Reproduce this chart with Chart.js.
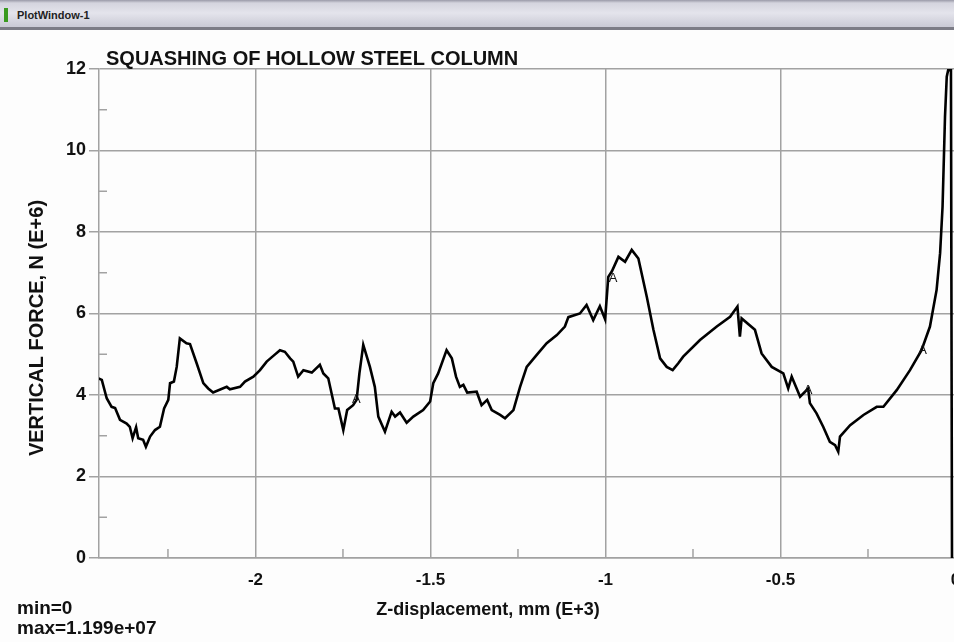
<!doctype html>
<html>
<head>
<meta charset="UTF-8">
<title>PlotWindow-1</title>
<script src="https://cdn.jsdelivr.net/npm/chart.js@4"></script>
<style>
  html, body { margin: 0; padding: 0; overflow: hidden; background: #fdfdfd; }
  #bar {
    position: absolute; left: 0; top: 0; width: 954px; height: 27px; z-index: 2;
    background: linear-gradient(#9a9aa8 0px, #d4d4de 3px, #e4e4ec 13px, #cbcbd6 26px);
    border-bottom: 3px solid #7c7c86;
    font: bold 11px "Liberation Sans", Arial, sans-serif; color: #222;
  }
  #bar span { position: absolute; left: 17px; top: 9px; }
  #bar i { position: absolute; left: 4px; top: 8px; width: 4px; height: 14px; background: #3a9a20; }
  #wrap { position: absolute; left: 0; top: 0; width: 980px; height: 642px; }
</style>
</head>
<body>
<div id="bar"><i></i><span>PlotWindow-1</span></div>
<div id="wrap"><canvas id="canvas" width="980" height="642"></canvas></div>
<script>
// Z-displacement (E+3 mm) and vertical force (E+6 N)
var xs = [-2.449,-2.439,-2.425,-2.411,-2.401,-2.387,-2.368,-2.359,-2.351,-2.341,-2.335,-2.321,-2.313,-2.301,-2.287,-2.273,-2.261,-2.249,-2.244,-2.233,
  -2.225,-2.216,-2.197,-2.187,-2.168,-2.149,-2.135,-2.121,-2.082,-2.073,-2.044,-2.030,-2.006,-1.987,-1.968,-1.949,-1.930,-1.916,-1.901,-1.892,
  -1.878,-1.863,-1.839,-1.816,-1.806,-1.792,-1.773,-1.763,-1.749,-1.738,-1.721,-1.711,-1.703,-1.692,-1.673,-1.659,-1.649,-1.630,-1.611,-1.601,
  -1.587,-1.568,-1.549,-1.521,-1.501,-1.492,-1.478,-1.454,-1.439,-1.427,-1.416,-1.406,-1.395,-1.368,-1.354,-1.338,-1.325,-1.301,-1.287,-1.263,
  -1.244,-1.225,-1.197,-1.168,-1.139,-1.116,-1.106,-1.073,-1.054,-1.035,-1.016,-1.001,-0.992,-0.982,-0.963,-0.944,-0.925,-0.906,-0.882,-0.863,
  -0.844,-0.825,-0.808,-0.792,-0.778,-0.730,-0.682,-0.644,-0.623,-0.616,-0.611,-0.573,-0.554,-0.525,-0.492,-0.478,-0.468,-0.444,-0.421,-0.416,
  -0.397,-0.378,-0.359,-0.344,-0.335,-0.330,-0.301,-0.263,-0.225,-0.206,-0.168,-0.130,-0.097,-0.073,-0.054,-0.044,-0.037,-0.030,-0.025,-0.021,
  -0.013,-0.010];
var ys = [4.41,4.37,3.92,3.71,3.68,3.39,3.30,3.22,2.94,3.21,2.94,2.90,2.73,2.98,3.14,3.22,3.67,3.88,4.29,4.33,
  4.69,5.39,5.27,5.25,4.78,4.29,4.16,4.06,4.20,4.14,4.20,4.33,4.45,4.61,4.82,4.96,5.10,5.06,4.90,4.82,
  4.45,4.61,4.55,4.74,4.53,4.41,3.67,3.67,3.14,3.63,3.75,3.88,4.53,5.23,4.69,4.20,3.47,3.10,3.59,3.47,
  3.57,3.32,3.47,3.63,3.84,4.29,4.53,5.10,4.90,4.45,4.20,4.25,4.06,4.08,3.75,3.88,3.63,3.51,3.43,3.63,
  4.20,4.69,4.98,5.27,5.47,5.68,5.91,6.00,6.21,5.84,6.18,5.86,6.90,7.03,7.39,7.27,7.56,7.35,6.41,5.60,
  4.90,4.69,4.61,4.78,4.94,5.35,5.68,5.92,6.17,5.43,5.88,5.60,5.02,4.69,4.53,4.16,4.45,3.96,4.16,3.80,
  3.55,3.22,2.85,2.77,2.61,2.98,3.26,3.51,3.71,3.71,4.12,4.61,5.10,5.68,6.58,7.48,8.62,10.83,11.81,11.97,
  11.97,0];

var xTicks = [-2, -1.5, -1, -0.5, 0];
var xMinor = [-2.25, -1.75, -1.25, -0.75, -0.25];
var yTicks = [0, 2, 4, 6, 8, 10, 12];
var yMinor = [1, 3, 5, 7, 9, 11];
// "A" markers sitting on the curve
var markX = [-1.712, -0.978, -0.421, -0.094];
var markY = [3.88, 6.87, 4.12, 5.10];

var points = xs.map(function(x, i){ return {x: x, y: ys[i]}; });
var gridCol = "#a2a2a2";
var boldFont = "'Liberation Sans', Arial, sans-serif";
var narrowFont = "'Liberation Sans Narrow', 'Liberation Sans', Arial, sans-serif";

var decor = {
  id: "decor",
  afterDraw: function(chart){
    var c = chart.ctx, xs_ = chart.scales.x, ys_ = chart.scales.y, a = chart.chartArea;
    c.save();
    // minor ticks inside the frame
    c.strokeStyle = gridCol; c.lineWidth = 1.5;
    xMinor.forEach(function(v){
      var px = xs_.getPixelForValue(v);
      c.beginPath(); c.moveTo(px, a.bottom); c.lineTo(px, a.bottom - 9); c.stroke();
    });
    yMinor.forEach(function(v){
      var py = ys_.getPixelForValue(v);
      c.beginPath(); c.moveTo(a.left, py); c.lineTo(a.left + 8, py); c.stroke();
    });
    // markers
    c.fillStyle = "#111"; c.font = "13px " + boldFont; c.textAlign = "center"; c.textBaseline = "middle";
    markX.forEach(function(v, i){
      c.fillText("A", xs_.getPixelForValue(v), ys_.getPixelForValue(markY[i]));
    });
    // texts
    c.fillStyle = "#111";
    c.textAlign = "left"; c.textBaseline = "alphabetic";
    c.font = "bold 20px " + boldFont;
    c.fillText("SQUASHING OF HOLLOW STEEL COLUMN", 106, 65);
    c.font = "bold 19px " + boldFont;
    c.fillText("min=0", 17, 614);
    c.fillText("max=1.199e+07", 17, 634);
    c.textAlign = "center";
    c.font = "bold 18px " + narrowFont;
    c.fillText("Z-displacement, mm (E+3)", 488, 615);
    c.translate(43, 328); c.rotate(-Math.PI / 2);
    c.font = "bold 20px " + boldFont;
    c.fillText("VERTICAL FORCE, N (E+6)", 0, 0);
    c.restore();
  }
};

window.onload = function(){
  var ctx = document.getElementById("canvas").getContext("2d");
  window.myLine = new Chart(ctx, {
    type: "line",
    data: { datasets: [{ data: points, borderColor: "#000", borderWidth: 2.6, pointRadius: 0, tension: 0, fill: false }] },
    options: {
      responsive: false,
      animation: false,
      layout: { padding: { top: 69, right: 24.5, left: 0, bottom: 0 } },
      plugins: { legend: { display: false }, tooltip: { enabled: false } },
      scales: {
        x: {
          type: "linear", min: -2.447, max: 0,
          afterBuildTicks: function(s){ s.ticks = xTicks.map(function(v){ return {value: v}; }); },
          afterFit: function(s){ s.height = 84; },
          grid: { color: gridCol, lineWidth: 1.5, drawTicks: false },
          border: { color: gridCol, width: 1.5 },
          ticks: { color: "#111", padding: 12, maxRotation: 0,
            callback: function(v){ return String(v); },
            font: { family: narrowFont, size: 17, weight: "bold" } }
        },
        y: {
          min: 0, max: 12,
          afterBuildTicks: function(s){ s.ticks = yTicks.map(function(v){ return {value: v}; }); },
          afterFit: function(s){ s.width = 99; },
          grid: { color: gridCol, lineWidth: 1.5, tickLength: 10 },
          border: { color: gridCol, width: 1.5 },
          ticks: { color: "#111", padding: 3, font: { family: boldFont, size: 18, weight: "bold" } }
        }
      }
    },
    plugins: [decor]
  });
};
</script>
</body>
</html>
